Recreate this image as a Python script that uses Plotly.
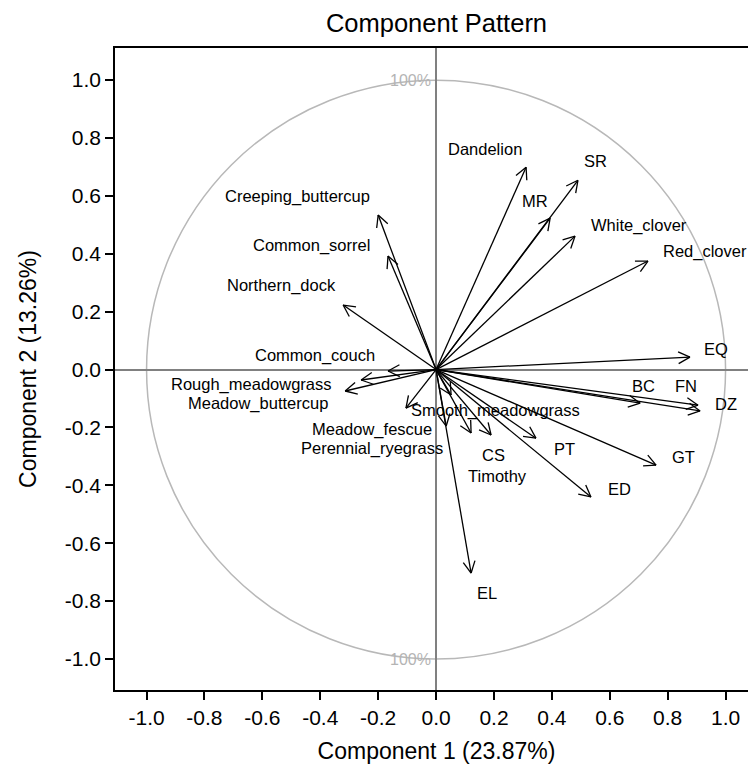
import math
import plotly.graph_objects as go

# Variable names
variables = [
    "Dandelion", "SR", "MR", "White_clover", "Red_clover", "EQ", "BC", "FN", "DZ",
    "GT", "ED", "PT", "CS", "Timothy", "Smooth_meadowgrass", "Perennial_ryegrass",
    "Meadow_fescue", "EL", "Creeping_buttercup", "Common_sorrel", "Northern_dock",
    "Common_couch", "Rough_meadowgrass", "Meadow_buttercup",
]
# Component loadings (arrow tips)
comp1 = [0.311, 0.490, 0.394, 0.480, 0.732, 0.877, 0.705, 0.905, 0.912,
         0.760, 0.535, 0.345, 0.190, 0.121, 0.052, 0.035,
         -0.104, 0.121, -0.200, -0.166, -0.321,
         -0.166, -0.259, -0.314]
comp2 = [0.699, 0.654, 0.523, 0.461, 0.375, 0.043, -0.116, -0.123, -0.143,
         -0.330, -0.440, -0.237, -0.226, -0.219, -0.088, -0.195,
         -0.133, -0.703, 0.534, 0.392, 0.223,
         -0.005, -0.036, -0.074]
# Label anchor points (data units)
label_x = [0.169, 0.549, 0.342, 0.701, 0.929, 0.967, 0.718, 0.864, 1.002,
           0.853, 0.632, 0.442, 0.197, 0.211, 0.204, -0.221,
           -0.221, 0.176, -0.477, -0.432, -0.535,
           -0.418, -0.636, -0.615]
label_y = [0.762, 0.720, 0.582, 0.499, 0.409, 0.071, -0.057, -0.057, -0.119,
           -0.302, -0.413, -0.275, -0.295, -0.368, -0.140, -0.271,
           -0.206, -0.772, 0.599, 0.430, 0.292,
           0.050, -0.053, -0.116]

tick_vals = [-1.0, -0.8, -0.6, -0.4, -0.2, 0.0, 0.2, 0.4, 0.6, 0.8, 1.0]
tick_text = ["-1.0", "-0.8", "-0.6", "-0.4", "-0.2", "0.0", "0.2", "0.4", "0.6", "0.8", "1.0"]

FONT = "Liberation Sans, Arial, sans-serif"

head_len = 0.045
head_ang = math.radians(27)

xs, ys = [], []
for x, y in zip(comp1, comp2):
    xs += [0, x, None]
    ys += [0, y, None]
    ang = math.atan2(y, x)
    for s in (1, -1):
        a = ang + math.pi + s * head_ang
        xs += [x + head_len * math.cos(a), x, None]
        ys += [y + head_len * math.sin(a), y, None]

fig = go.Figure()
fig.add_trace(go.Scatter(x=xs, y=ys, mode="lines",
                         line=dict(color="black", width=1.3),
                         hoverinfo="skip", showlegend=False))

annotations = []
for name, lx, ly in zip(variables, label_x, label_y):
    annotations.append(dict(x=lx, y=ly, text=name, showarrow=False,
                            xanchor="center", yanchor="middle",
                            font=dict(family=FONT, size=16.5, color="black")))
for yy in (1.0, -1.0):
    annotations.append(dict(x=0, y=yy, text="100%", showarrow=False,
                            xanchor="right", yanchor="middle", xshift=-3,
                            font=dict(family=FONT, size=16, color="#b4b4b4")))

fig.update_layout(
    width=756, height=769,
    margin=dict(l=107, r=6, t=40, b=87),
    paper_bgcolor="white", plot_bgcolor="white",
    title=dict(text="Component Pattern", x=0.5, xanchor="center", xref="paper",
               y=1 - 15 / 769, yanchor="middle",
               font=dict(family=FONT, size=25.5, color="black")),
    shapes=[dict(type="circle", xref="x", yref="y", x0=-1, y0=-1, x1=1, y1=1,
                 line=dict(color="#b8b8b8", width=1.5), layer="below")],
    annotations=annotations,
)
axis_common = dict(
    tickvals=tick_vals, ticktext=tick_text, automargin=False,
    showgrid=False, zeroline=True, zerolinecolor="#808080", zerolinewidth=1.5,
    showline=True, linecolor="black", linewidth=1.5, mirror=True,
    ticks="outside", ticklen=8, tickwidth=1.5, tickcolor="black",
    tickfont=dict(family=FONT, size=21, color="black"),
)
fig.update_xaxes(range=[-1.109, 1.112],
                 title=dict(text="Component 1 (23.87%)", standoff=15,
                            font=dict(family=FONT, size=23, color="black")),
                 **axis_common)
fig.update_yaxes(range=[-1.107, 1.111],
                 title=dict(text="Component 2 (13.26%)", standoff=22,
                            font=dict(family=FONT, size=23, color="black")),
                 **axis_common)

fig.write_html("out.html")
